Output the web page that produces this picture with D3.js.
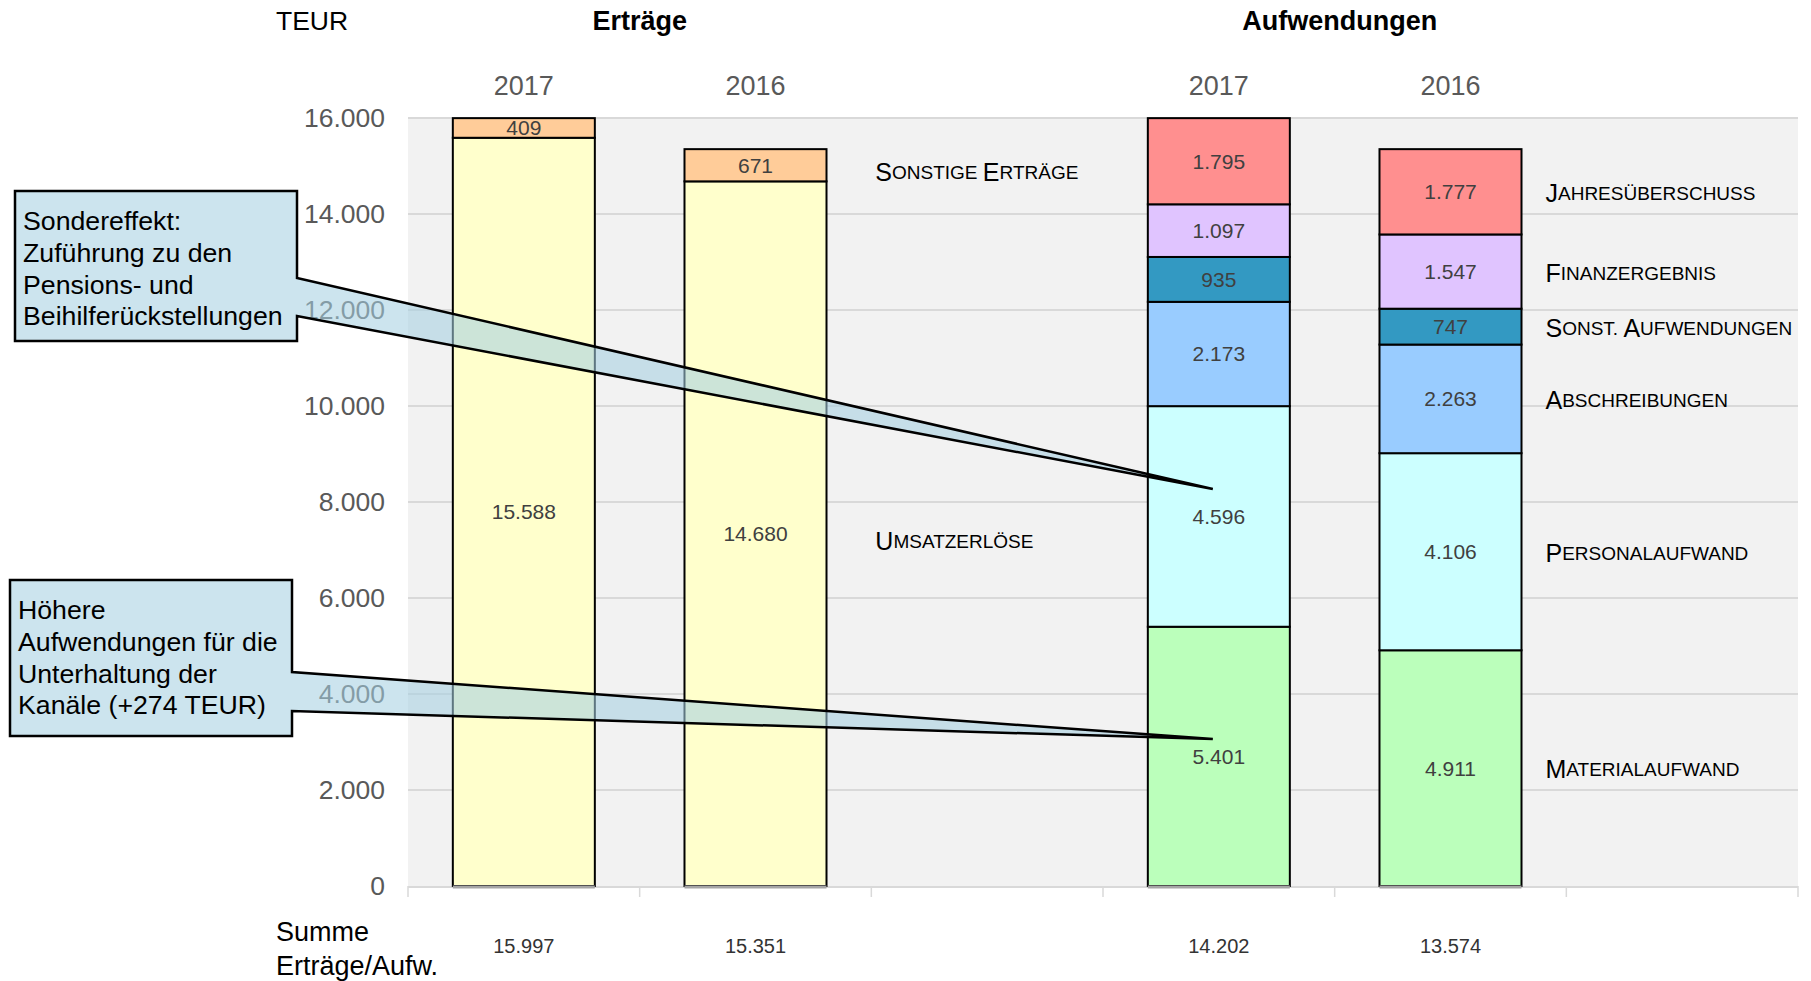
<!DOCTYPE html>
<html>
<head>
<meta charset="utf-8">
<script src="https://cdn.jsdelivr.net/npm/d3@7"></script>
<style>
  html, body { margin: 0; padding: 0; background: #fff; }
  svg { display: block; font-family: "Liberation Sans", Arial, sans-serif; }
</style>
</head>
<body>
<svg id="chart" width="1811" height="981"></svg>
<script>
// ---------------- DATA ----------------
const columns = ["Erträge 2017", "Erträge 2016", "leer1", "Aufwendungen 2017", "Aufwendungen 2016", "leer2"];
const yearLabels = ["2017", "2016", "", "2017", "2016", ""];
const groupTitles = ["Erträge", "Aufwendungen"];

const ertraegeSeries = ["Umsatzerlöse", "Sonstige Erträge"];
const ertraege2017 = [15588, 409];
const ertraege2016 = [14680, 671];
const ertraegeColors = ["#FFFFCC", "#FFCC99"];

const aufwSeries = ["Materialaufwand", "Personalaufwand", "Abschreibungen", "Sonst. Aufwendungen", "Finanzergebnis", "Jahresüberschuss"];
const aufw2017 = [5401, 4596, 2173, 935, 1097, 1795];
const aufw2016 = [4911, 4106, 2263, 747, 1547, 1777];
const aufwColors = ["#BBFFBB", "#CCFFFF", "#99CCFF", "#3399C2", "#E0C4FF", "#FF8F8F"];

const sumLabel = ["Summe", "Erträge/Aufw."];
const sums = [15997, 15351, 14202, 13574];
const yTicks = [0, 2000, 4000, 6000, 8000, 10000, 12000, 14000, 16000];
const unitLabel = "TEUR";

const callout1Text = ["Sondereffekt:", "Zuführung zu den", "Pensions- und", "Beihilferückstellungen"];
const callout1Target = { column: "Aufwendungen 2017", value: 8270 };
const callout2Text = ["Höhere", "Aufwendungen für die", "Unterhaltung der", "Kanäle (+274 TEUR)"];
const callout2Target = { column: "Aufwendungen 2017", value: 3060 };

// ---------------- LAYOUT ----------------
const svg = d3.select("#chart");
const plot = { left: 408, right: 1798, top: 118, bottom: 886 };
const de = d3.formatLocale({ decimal: ",", thousands: ".", grouping: [3], currency: ["", " €"] });
const fmt = de.format(",d");

const x = d3.scaleBand().domain(columns).range([plot.left, plot.right])
  .paddingInner(0.387).paddingOuter(0.1935);
const step = x.step();
const y = d3.scaleLinear().domain([0, 16000]).range([plot.bottom, plot.top]);

// plot background
svg.append("rect").attr("x", plot.left).attr("y", plot.top)
  .attr("width", plot.right - plot.left).attr("height", plot.bottom - plot.top)
  .attr("fill", "#F2F2F2");

// gridlines
svg.append("g").selectAll("line").data(yTicks.filter(d => d > 0)).join("line")
  .attr("x1", plot.left).attr("x2", plot.right)
  .attr("y1", d => y(d)).attr("y2", d => y(d))
  .attr("stroke", "#D9D9D9").attr("stroke-width", 2);

// y axis labels
const yAxis = d3.axisLeft(y).tickValues(yTicks).tickFormat(fmt).tickSize(0).tickPadding(23);
const yg = svg.append("g").attr("transform", `translate(${plot.left},0)`).call(yAxis);
yg.select(".domain").remove();
yg.selectAll("text").attr("font-size", 26.5).attr("fill", "#595959")
  .attr("font-family", "Liberation Sans, Arial, sans-serif");

// x axis baseline + ticks at band boundaries
svg.append("line").attr("x1", plot.left).attr("x2", plot.right)
  .attr("y1", plot.bottom + 1).attr("y2", plot.bottom + 1)
  .attr("stroke", "#D9D9D9").attr("stroke-width", 2);
const boundaries = columns.map(c => x(c) - step * x.paddingOuter()).concat([plot.right]);
svg.append("g").selectAll("line").data(boundaries).join("line")
  .attr("x1", d => d).attr("x2", d => d)
  .attr("y1", plot.bottom).attr("y2", plot.bottom + 11)
  .attr("stroke", "#D9D9D9").attr("stroke-width", 1.5);

// stacked bars
function stackColumn(col, values, colors, names) {
  let acc = 0;
  return values.map((v, i) => {
    const seg = { col, name: names[i], value: v, y0: acc, y1: acc + v, color: colors[i] };
    acc += v;
    return seg;
  });
}
const stacks = [
  stackColumn("Erträge 2017", ertraege2017, ertraegeColors, ertraegeSeries),
  stackColumn("Erträge 2016", ertraege2016, ertraegeColors, ertraegeSeries),
  stackColumn("Aufwendungen 2017", aufw2017, aufwColors, aufwSeries),
  stackColumn("Aufwendungen 2016", aufw2016, aufwColors, aufwSeries)
];
const segments = stacks.flat();

const barG = svg.append("g");
barG.selectAll("rect").data(segments).join("rect")
  .attr("x", d => x(d.col)).attr("width", x.bandwidth())
  .attr("y", d => y(d.y1)).attr("height", d => y(d.y0) - y(d.y1))
  .attr("fill", d => d.color).attr("stroke", "#000").attr("stroke-width", 2);

// darker base under bars
svg.append("g").selectAll("line").data(stacks).join("line")
  .attr("x1", d => x(d[0].col)).attr("x2", d => x(d[0].col) + x.bandwidth())
  .attr("y1", plot.bottom + 1).attr("y2", plot.bottom + 1)
  .attr("stroke", "#A6A6A6").attr("stroke-width", 3);

// value labels
svg.append("g").selectAll("text").data(segments).join("text")
  .attr("x", d => x(d.col) + x.bandwidth() / 2)
  .attr("y", d => y((d.y0 + d.y1) / 2))
  .attr("text-anchor", "middle").attr("dominant-baseline", "central")
  .attr("font-size", 21).attr("fill", "#404040")
  .text(d => fmt(d.value));

// series labels (manual small caps) next to the 2016 bars
const clip = svg.append("clipPath").attr("id", "clipR");
clip.append("rect").attr("x", 0).attr("y", 0).attr("width", plot.right + 1).attr("height", 981);
const labelG = svg.append("g").attr("clip-path", "url(#clipR)");

function smallCapsRuns(str) {
  const runs = [];
  for (const ch of str) {
    const big = ch !== ch.toLowerCase();
    const last = runs[runs.length - 1];
    if (last && last.big === big) last.t += ch.toUpperCase();
    else runs.push({ big, t: ch.toUpperCase() });
  }
  return runs;
}
function drawSeriesLabels(cls, data, xPos, dy) {
  const t = labelG.selectAll("text." + cls).data(data).join("text").attr("class", cls)
    .attr("x", xPos).attr("y", d => y((d.y0 + d.y1) / 2) + dy)
    .attr("dominant-baseline", "central").attr("fill", "#000");
  t.each(function (d) {
    d3.select(this).selectAll("tspan").data(smallCapsRuns(d.name)).join("tspan")
      .attr("font-size", r => r.big ? 25 : 19).text(r => r.t);
  });
}
const leftLabelX = x("leer1") - step * x.paddingOuter() + 4;
drawSeriesLabels("le", stacks[1], leftLabelX, 7);
const rightLabelX = x("Aufwendungen 2016") + x.bandwidth() + 24;
drawSeriesLabels("ra", stacks[3], rightLabelX, 1);

// year labels
svg.append("g").selectAll("text").data(columns.filter((c, i) => yearLabels[i])).join("text")
  .attr("x", d => x(d) + x.bandwidth() / 2).attr("y", 86)
  .attr("text-anchor", "middle").attr("dominant-baseline", "central")
  .attr("font-size", 27).attr("fill", "#595959")
  .text(d => yearLabels[columns.indexOf(d)]);

// group titles
const titleX = [x("Erträge 2016") - step * x.paddingOuter(), x("Aufwendungen 2016") - step * x.paddingOuter() + 5];
svg.append("g").selectAll("text").data(groupTitles).join("text")
  .attr("x", (d, i) => titleX[i]).attr("y", 21)
  .attr("text-anchor", "middle").attr("dominant-baseline", "central")
  .attr("font-size", 27).attr("font-weight", "bold").attr("fill", "#000")
  .text(d => d);

svg.append("text").attr("x", 276).attr("y", 21).attr("dominant-baseline", "central")
  .attr("font-size", 26.5).attr("fill", "#000").text(unitLabel);

// sums row
svg.append("g").selectAll("text").data(sumLabel).join("text")
  .attr("x", 276).attr("y", (d, i) => 932 + i * 33.5).attr("dominant-baseline", "central")
  .attr("font-size", 27).attr("fill", "#000").text(d => d);
const sumCols = ["Erträge 2017", "Erträge 2016", "Aufwendungen 2017", "Aufwendungen 2016"];
svg.append("g").selectAll("text").data(sums).join("text")
  .attr("x", (d, i) => x(sumCols[i]) + x.bandwidth() / 2)
  .attr("y", 946).attr("text-anchor", "middle").attr("dominant-baseline", "central")
  .attr("font-size", 20).attr("fill", "#333").text(d => fmt(d));

// callouts
function callout(box, wedge, target, lines) {
  const tx = x(target.column) + x.bandwidth() / 2 - 6;
  const ty = y(target.value);
  const p = d3.path();
  p.moveTo(box.x0, box.y0);
  p.lineTo(box.x1, box.y0);
  p.lineTo(box.x1, wedge[0]);
  p.lineTo(tx, ty);
  p.lineTo(box.x1, wedge[1]);
  p.lineTo(box.x1, box.y1);
  p.lineTo(box.x0, box.y1);
  p.closePath();
  svg.append("path").attr("d", p.toString())
    .attr("fill", "rgb(165,208,225)").attr("fill-opacity", 0.57)
    .attr("stroke", "#000").attr("stroke-width", 2.5).attr("stroke-linejoin", "miter");
  svg.append("g").selectAll("text").data(lines).join("text")
    .attr("x", box.x0 + 8).attr("y", (d, i) => box.y0 + 30 + i * 31.8)
    .attr("dominant-baseline", "central").attr("font-size", 26.7).attr("fill", "#000")
    .text(d => d);
}
callout({ x0: 15, y0: 191, x1: 297, y1: 341 }, [278, 316], callout1Target, callout1Text);
callout({ x0: 10, y0: 580, x1: 292, y1: 736 }, [672, 711], callout2Target, callout2Text);
</script>
</body>
</html>
